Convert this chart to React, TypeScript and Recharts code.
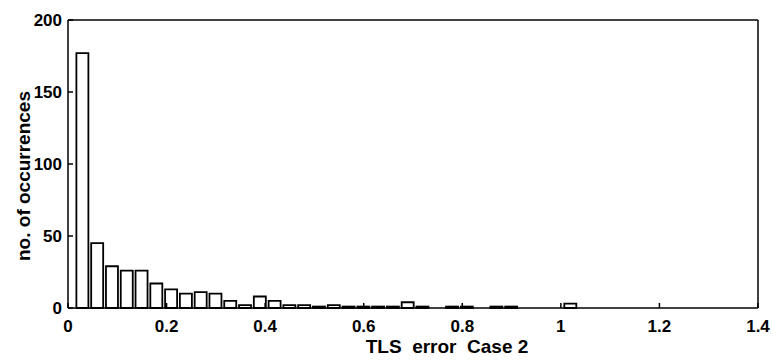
import React from "react";
import { ComposedChart, Bar, XAxis, YAxis } from "recharts";

const binCenters = [
  0.03, 0.06, 0.09, 0.12, 0.15, 0.18, 0.21, 0.24, 0.27, 0.3, 0.33, 0.36, 0.39,
  0.42, 0.45, 0.48, 0.51, 0.54, 0.57, 0.6, 0.63, 0.66, 0.69, 0.72, 0.75, 0.78,
  0.81, 0.84, 0.87, 0.9, 0.93, 0.96, 0.99, 1.02,
];
const counts = [
  177, 45, 29, 26, 26, 17, 13, 10, 11, 10, 5, 2, 8, 5, 2, 2, 1, 2, 1, 1, 1, 1,
  4, 1, 0, 1, 1, 0, 1, 1, 0, 0, 0, 3,
];
const xTicks = [0, 0.2, 0.4, 0.6, 0.8, 1, 1.2, 1.4];
const yTicks = [0, 50, 100, 150, 200];
const xLabel = "TLS\u00a0 error\u00a0 Case 2";
const yLabel = "no. of occurrences";

const data = binCenters.map((x, i) => ({ x, count: counts[i] }));

const font = "'Liberation Sans', Arial, sans-serif";
const tickStyle = { fill: "#000", fontSize: 17, fontFamily: font, fontWeight: 700 };
const labelStyle = { fill: "#000", fontSize: 19, fontFamily: font, fontWeight: 700 };
const axisLine = { stroke: "#000", strokeWidth: 1.5 };

export default function App() {
  return (
    <div style={{ background: "#fff", width: 770, height: 354 }}>
      <ComposedChart
        width={770}
        height={354}
        data={data}
        margin={{ top: 11, right: 19, bottom: 0, left: 0 }}
      >
        <XAxis
          xAxisId="b"
          dataKey="x"
          type="number"
          domain={[0, 1.4]}
          ticks={xTicks}
          allowDataOverflow
          axisLine={axisLine}
          tickLine={axisLine}
          tickSize={-5}
          tickMargin={17}
          tick={tickStyle}
          height={54}
          label={{
            value: xLabel,
            position: "insideBottom",
            offset: 9,
            dx: 34,
            style: labelStyle,
          }}
        />
        <XAxis
          xAxisId="t"
          dataKey="x"
          type="number"
          orientation="top"
          domain={[0, 1.4]}
          ticks={xTicks}
          axisLine={axisLine}
          tickLine={axisLine}
          tickSize={-5}
          tick={false}
          height={1}
        />
        <YAxis
          yAxisId="l"
          domain={[0, 200]}
          ticks={yTicks}
          axisLine={axisLine}
          tickLine={axisLine}
          tickSize={-5}
          tickMargin={11}
          tick={tickStyle}
          width={60}
          label={{
            value: yLabel,
            angle: -90,
            position: "insideLeft",
            offset: 15,
            dy: 12,
            style: { ...labelStyle, textAnchor: "middle" },
          }}
        />
        <YAxis
          yAxisId="r"
          orientation="right"
          domain={[0, 200]}
          ticks={yTicks}
          axisLine={axisLine}
          tickLine={axisLine}
          tickSize={-5}
          tick={false}
          width={1}
        />
        <Bar
          xAxisId="b"
          yAxisId="l"
          dataKey="count"
          fill="#fff"
          stroke="#000"
          strokeWidth={1.8}
          barSize={12}
          isAnimationActive={false}
        />
      </ComposedChart>
    </div>
  );
}
